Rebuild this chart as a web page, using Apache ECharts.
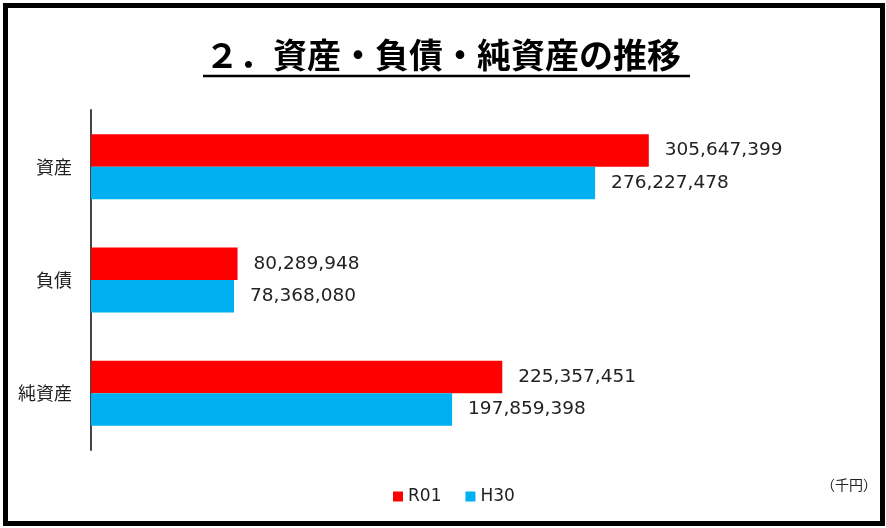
<!DOCTYPE html>
<html><head><meta charset="utf-8">
<script src="https://cdn.jsdelivr.net/npm/echarts@6/dist/echarts.min.js"></script>
<style>html,body{margin:0;padding:0;background:#fff}#c{width:886px;height:528px}</style>
</head><body><div id="c"></div>
<script>
const categories = ['資産', '負債', '純資産'];
const seriesNames = ['R01', 'H30'];
const r01Values = [305647399, 80289948, 225357451];
const h30Values = [276227478, 78368080, 197859398];
const titleText = '２．資産・負債・純資産の推移';
const unitText = '（千円）';

const chart = echarts.init(document.getElementById('c'));
const fmt = p => p.value.toLocaleString('en-US');
const labelStyle = {show: true, position: 'right', distance: 16, formatter: fmt,
  fontFamily: 'DejaVu Sans', fontSize: 18.5, color: '#222'};
chart.setOption({
  animation: false,
  title: {text: titleText, left: 'center', top: 33,
    textStyle: {fontFamily: 'Noto Sans CJK JP', fontWeight: 'bold', fontSize: 34, color: '#000'}},
  legend: {data: seriesNames, left: 388, top: 483, itemWidth: 10, itemHeight: 10, itemGap: 24,
    icon: 'rect', textStyle: {fontFamily: 'DejaVu Sans', fontSize: 17, color: '#222'}},
  grid: {left: 91, top: 110, width: 730, height: 340},
  xAxis: {type: 'value', min: 0, max: 400000000, show: false},
  yAxis: {type: 'category', data: categories, inverse: true,
    axisLine: {lineStyle: {color: '#444', width: 2}}, axisTick: {show: false},
    axisLabel: {fontFamily: 'Noto Sans CJK JP', fontSize: 18, color: '#222', margin: 19}},
  series: [
    {name: seriesNames[0], type: 'bar', data: r01Values, itemStyle: {color: '#FF0000'},
      barGap: '0%', barCategoryGap: '42.6%', label: labelStyle},
    {name: seriesNames[1], type: 'bar', data: h30Values, itemStyle: {color: '#00B0F0'},
      barGap: '0%', barCategoryGap: '42.6%', label: labelStyle}
  ],
  graphic: [
    {type: 'rect', shape: {x: 5.5, y: 5.5, width: 877, height: 518},
      style: {fill: 'none', stroke: '#000', lineWidth: 5}},
    {type: 'line', shape: {x1: 203, y1: 76, x2: 690, y2: 76},
      style: {stroke: '#000', lineWidth: 2.5}},
    {type: 'text', left: 821, top: 478,
      style: {text: unitText, fontFamily: 'Noto Sans CJK JP', fontSize: 14, fill: '#222'}}
  ]
});
</script></body></html>
